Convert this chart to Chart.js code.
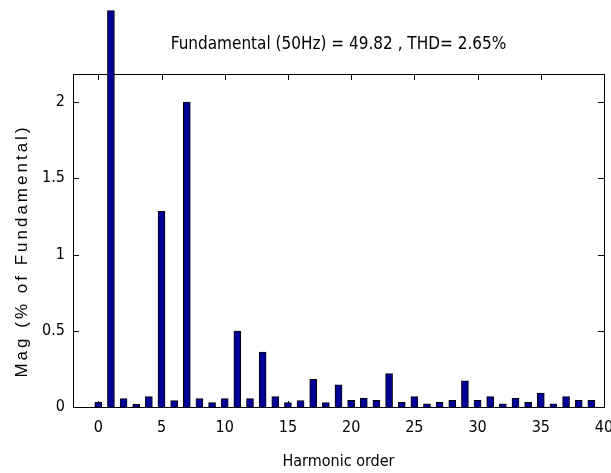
<!DOCTYPE html>
<html>
<head>
<meta charset="utf-8">
<script src="https://cdn.jsdelivr.net/npm/chart.js@4.4.0/dist/chart.umd.min.js"></script>
<style>
  html, body { margin: 0; padding: 0; background: #fff; }
</style>
</head>
<body>
<canvas id="harm" width="611" height="473"></canvas>
<script>
// Harmonische Ordnungen und Beträge (% der Grundschwingung)
const harmonics = [0, 1, 2, 3, 4, 5, 6, 7, 8, 9,
                   10, 11, 12, 13, 14, 15, 16, 17, 18, 19,
                   20, 21, 22, 23, 24, 25, 26, 27, 28, 29,
                   30, 31, 32, 33, 34, 35, 36, 37, 38, 39];
const magnitude = [0.03, 2.6, 0.055, 0.018, 0.068, 1.283, 0.042, 2.0, 0.055, 0.029,
                   0.055, 0.498, 0.055, 0.36, 0.068, 0.029, 0.042, 0.182, 0.029, 0.145,
                   0.044, 0.057, 0.044, 0.219, 0.031, 0.068, 0.02, 0.031, 0.044, 0.171,
                   0.044, 0.068, 0.02, 0.057, 0.031, 0.092, 0.02, 0.068, 0.044, 0.044];
const xTicks = [0, 5, 10, 15, 20, 25, 30, 35, 40];
const yTicks = [0, 0.5, 1, 1.5, 2];
const titleText = 'Fundamental (50Hz) = 49.82 , THD= 2.65%';
const yTitle = 'Mag (% of Fundamental)';

const FONT = "'Liberation Sans Narrow', 'DejaVu Sans Condensed', 'Arial Narrow', sans-serif";

// Rahmen und nach innen zeigende Ticks (MATLAB-Stil)
const boxPlugin = {
  id: 'box',
  beforeDatasetsDraw(chart) {
    const { ctx, chartArea: a, scales } = chart;
    const len = 6;
    ctx.save();
    ctx.strokeStyle = '#000';
    ctx.lineWidth = 1;
    ctx.strokeRect(Math.round(a.left) + 0.5, Math.round(a.top) + 0.5,
                   Math.round(a.right - a.left), Math.round(a.bottom - a.top));
    ctx.beginPath();
    xTicks.forEach(v => {
      const x = Math.round(scales.x.getPixelForValue(v)) + 0.5;
      ctx.moveTo(x, a.bottom); ctx.lineTo(x, a.bottom - len);
      ctx.moveTo(x, a.top); ctx.lineTo(x, a.top + len);
    });
    yTicks.forEach(v => {
      const y = Math.round(scales.y.getPixelForValue(v)) + 0.5;
      ctx.moveTo(a.left, y); ctx.lineTo(a.left + len, y);
      ctx.moveTo(a.right, y); ctx.lineTo(a.right - len, y);
    });
    ctx.stroke();
    ctx.restore();
  },
  afterDraw(chart) {
    const { ctx, chartArea: a } = chart;
    ctx.save();
    ctx.font = '17px ' + FONT;
    ctx.fillStyle = '#000';
    ctx.textAlign = 'center';
    ctx.textBaseline = 'middle';
    ctx.fillText(titleText, (a.left + a.right) / 2, 45);
    // y-Achsentitel, gesperrt wie im Original
    ctx.translate(22, 251);
    ctx.rotate(-Math.PI / 2);
    ctx.font = "17px 'Liberation Sans', Arial, sans-serif";
    ctx.letterSpacing = '3px';
    ctx.fillText(yTitle, 0, 0);
    ctx.restore();
  }
};

const ctx = document.getElementById('harm').getContext('2d');
new Chart(ctx, {
  type: 'bar',
  data: {
    datasets: [{
      data: harmonics.map((h, i) => ({ x: h, y: magnitude[i] })),
      backgroundColor: '#000096',
      borderColor: '#000',
      borderWidth: 1,
      barThickness: 7,
      clip: false
    }]
  },
  options: {
    responsive: false,
    animation: false,
    devicePixelRatio: 1,
    layout: { padding: { top: 74, right: 7, left: 0, bottom: 0 } },
    plugins: { legend: { display: false }, tooltip: { enabled: false } },
    scales: {
      x: {
        type: 'linear',
        min: -2,
        max: 40,
        offset: false,
        afterBuildTicks: s => { s.ticks = xTicks.map(v => ({ value: v })); },
        afterFit: s => { s.height = 66; s.paddingLeft = 0; s.paddingRight = 0; },
        grid: { display: false, drawTicks: false, offset: false },
        border: { display: false },
        ticks: { color: '#000', padding: 11, font: { family: FONT, size: 16 }, maxRotation: 0 },
        title: { display: true, text: 'Harmonic order', color: '#000',
                 font: { family: FONT, size: 16 }, padding: { top: 0, bottom: 2 } }
      },
      y: {
        min: 0,
        max: 2.184,
        afterBuildTicks: s => { s.ticks = yTicks.map(v => ({ value: v })); },
        afterFit: s => { s.width = 73; s.paddingTop = 0; s.paddingBottom = 0; },
        grid: { display: false, drawTicks: false },
        border: { display: false },
        ticks: { color: '#000', padding: 8, font: { family: FONT, size: 16 },
                 callback: v => String(v) }
      }
    }
  },
  plugins: [boxPlugin]
});
</script>
</body>
</html>
